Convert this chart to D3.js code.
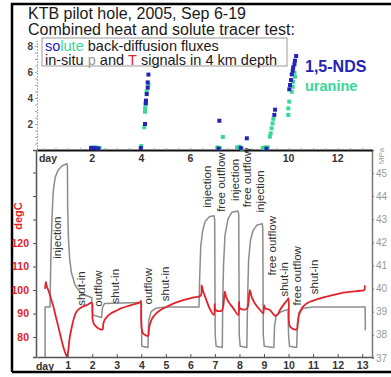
<!DOCTYPE html>
<html>
<head>
<meta charset="utf-8">
<script src="https://cdn.jsdelivr.net/npm/d3@7"></script>
<style>
  body { margin: 0; background: #fff; }
  svg { display: block; font-family: "Liberation Sans", Arial, sans-serif; }
</style>
</head>
<body>
<div id="chart"></div>
<script>
// ---- data ----
// in-situ pressure (MPa) vs day
const pDays = [0.08, 0.08, 0.28, 0.30, 0.32, 0.36, 0.41, 0.49, 0.60, 0.76, 0.96,
  0.99, 1.00, 1.03, 1.08, 1.15, 1.30, 1.50, 1.75, 1.98,
  2.00, 2.05, 2.38, 2.42, 2.50, 4.00,
  4.02, 4.27, 4.30, 4.40, 4.60, 5.00, 6.35,
  6.38, 6.42, 6.50, 6.60, 6.77, 6.96, 6.99, 7.01, 7.05, 7.30,
  7.32, 7.35, 7.41, 7.53, 7.69, 7.94, 7.97, 7.99, 8.03, 8.30,
  8.33, 8.37, 8.45, 8.55, 8.72, 8.93, 8.95, 8.97, 9.01, 9.40,
  9.43, 9.50, 9.70, 9.98, 10.00, 10.04, 10.33,
  10.36, 10.42, 10.60, 11.00, 13.12, 13.13];
const pMPa = [37.0, 39.2, 39.2, 40.5, 41.6, 43.0, 44.2, 44.8, 45.1, 45.3, 45.4,
  45.3, 43.5, 42.2, 41.3, 40.7, 40.15, 39.85, 39.7, 39.6,
  39.0, 38.85, 38.75, 39.2, 39.35, 39.4,
  37.5, 37.45, 38.6, 39.0, 39.15, 39.2, 39.2,
  40.5, 41.8, 42.5, 42.9, 43.1, 43.15, 43.0, 38.0, 37.5, 37.45,
  39.5, 41.0, 42.3, 43.0, 43.3, 43.35, 43.2, 38.0, 37.5, 37.45,
  39.5, 41.2, 42.1, 42.5, 42.75, 42.8, 42.6, 38.0, 37.5, 37.45,
  38.4, 38.85, 39.0, 39.1, 38.0, 37.5, 37.45,
  38.5, 38.95, 39.15, 39.2, 39.2, 38.2];

// in-situ temperature (degC) vs day
const tDays = [0.08, 0.11, 0.15, 0.21, 0.30, 0.42, 0.52, 0.62, 0.72, 0.82, 0.90, 0.97,
  1.02, 1.08, 1.17, 1.27, 1.37, 1.55, 1.78, 1.98,
  2.01, 2.05, 2.15, 2.30, 2.42, 2.45, 2.50, 2.60, 2.77, 3.00, 3.17, 3.58, 3.98,
  3.99, 4.01, 4.07, 4.15, 4.27, 4.32, 4.41, 4.50, 4.62, 4.80, 5.03, 5.35, 5.70, 6.10, 6.42,
  6.46, 6.52, 6.60, 6.70, 6.80, 6.96, 6.99, 7.02, 7.28,
  7.40, 7.46, 7.55, 7.75, 7.95, 7.98, 8.02, 8.30,
  8.42, 8.50, 8.63, 8.84, 8.97, 9.00, 9.05, 9.24, 9.45, 9.55, 9.65, 9.80, 9.97, 10.00,
  10.02, 10.08, 10.33, 10.38, 10.43, 10.54, 10.70, 10.87, 11.15, 11.42, 11.80, 12.10, 12.50, 12.91,
  13.08, 13.11];
const tDegC = [100.5, 103.5, 101.5, 100.0, 97.0, 92.9, 88.5, 84.4, 80.0, 75.9, 73.3, 71.6,
  74.0, 79.5, 84.4, 88.5, 91.0, 92.6, 93.6, 94.6,
  88.0, 86.0, 84.5, 83.4, 83.2, 85.5, 87.2, 88.6, 90.1, 91.3, 92.2, 93.6, 95.0,
  95.5, 84.0, 81.5, 80.9, 80.5, 84.0, 87.2, 88.8, 90.2, 91.6, 92.9, 94.4, 95.7, 96.8, 97.6,
  102.0, 99.5, 97.2, 94.3, 91.8, 89.4, 94.0, 91.5, 91.3,
  99.3, 97.0, 95.0, 92.2, 89.4, 95.0, 92.2, 92.0,
  100.0, 97.0, 94.3, 91.5, 90.1, 93.6, 92.2, 91.5, 89.0, 89.5, 91.5, 93.8, 96.0, 96.5,
  86.0, 84.2, 83.2, 86.0, 89.5, 92.2, 94.0, 95.0, 96.0, 96.9, 97.8, 98.6, 99.2, 99.7,
  100.0, 102.0];

// back-diffusion fluxes (upper panel)
const ndsDays = [1.95, 2.10, 2.25, 3.98, 4.15, 4.18, 4.19, 4.22, 4.26, 4.26, 4.29,
  7.15, 7.18, 8.05, 8.30, 9.10, 9.42, 9.45,
  10.03, 10.06, 10.10, 10.13, 10.17, 10.19, 10.24, 10.26, 10.31];
const ndsFlux = [0.15, 0.15, 0.12, 0.15, 2.0, 3.6, 3.8, 4.3, 4.8, 5.2, 5.8,
  0.1, 2.25, 0.15, 0.9, 0.1, 2.7, 3.1,
  4.67, 5.0, 5.38, 5.82, 6.1, 6.36, 6.6, 6.87, 7.23];
const uraDays = [2.00, 2.15, 2.30, 4.00, 4.12, 4.15, 4.15, 4.18, 4.22, 4.29,
  7.10, 7.20, 7.32, 7.90, 8.00, 8.10, 8.95, 9.05, 9.15,
  9.24, 9.27, 9.31, 9.35, 9.38, 9.99, 9.99, 10.03, 10.13, 10.17, 10.19, 10.24, 10.26];
const uraFlux = [0.2, 0.2, 0.15, 0.3, 1.75, 2.95, 3.2, 3.5, 4.5, 5.05,
  0.2, 0.15, 1.0, 0.2, 0.25, 0.1, 0.15, 0.2, 0.2,
  1.03, 1.28, 1.67, 2.05, 2.4, 2.7, 3.2, 3.72, 4.48, 4.87, 5.25, 5.95, 5.64];

// tick labels
const dayTicks = [1, 2, 3, 4, 5, 6, 7, 8, 9, 10, 11, 12, 13];
const topDayTicks = [2, 4, 6, 10, 12];
const fluxTicks = [2, 4, 6, 8];
const degTicks = [80, 90, 100, 110, 120, 130, 140, 150];
const degLabelled = [80, 90, 100, 110, 120];
const mpaTicks = [37, 38, 39, 40, 41, 42, 43, 44, 45];

// phase annotations: [text, day, MPa at centre]
const phases = [
  ["injection", 0.56, 42.2], ["shut-in", 1.56, 40.0], ["outflow", 2.25, 40.0], ["shut-in", 2.94, 40.1],
  ["outflow", 4.27, 40.1], ["shut-in", 4.96, 40.2],
  ["injection", 6.68, 44.4], ["free outflow", 7.25, 44.6], ["injection", 7.82, 44.7],
  ["free outflow", 8.3, 44.8], ["injection", 8.85, 44.2], ["free outflow", 9.33, 41.85],
  ["shut-in", 9.82, 40.4], ["free outflow", 10.33, 40.55], ["shut-in", 11.04, 40.5]
];

// ---- layout ----
const W = 391, H = 377;
const blue = "#2323b4", green = "#38d898", red = "#e3222b", gray = "#8c8c8c";

const svg = d3.select("#chart").append("svg").attr("width", W).attr("height", H);

const x = d3.scaleLinear().domain([-0.25, 13.4]).range([37, 372]);
const yFlux = d3.scaleLinear().domain([0, 8.4]).range([150, 40.8]);
const yT = d3.scaleLinear().domain([71.5, 159.6]).range([357, 150]);
const yP = d3.scaleLinear().domain([37.04, 45.99]).range([357, 150]);

// frame
svg.append("path").attr("d", "M12,372V4H391M12,372H391")
  .attr("fill", "none").attr("stroke", "#000").attr("stroke-width", 2.5);

// title
svg.append("text").attr("x", 28).attr("y", 19).style("font-size", "16px").attr("fill", "#1a1a1a")
  .text("KTB pilot hole, 2005, Sep 6-19");
svg.append("text").attr("x", 28).attr("y", 34.5).style("font-size", "16px").attr("fill", "#1a1a1a")
  .text("Combined heat and solute tracer test:");

// upper panel y axis (fluxes)
const fluxAxis = svg.append("g").attr("transform", "translate(37,0)")
  .call(d3.axisLeft(yFlux).tickValues(d3.range(0.5, 8.5, 0.5)).tickSize(2).tickFormat(""));
fluxAxis.select(".domain").attr("stroke", "#aaa").attr("stroke-dasharray", "2,1");
fluxAxis.selectAll(".tick line").attr("stroke", "#aaa");
fluxTicks.forEach(v => {
  svg.append("text").attr("x", 33).attr("y", yFlux(v)).attr("dy", "0.35em")
    .attr("text-anchor", "end").style("font-size", "10px").style("font-weight", "bold")
    .attr("fill", "#444").text(v);
});

// legend box, coloured words placed one after another
svg.append("rect").attr("x", 42).attr("y", 38).attr("width", 245).attr("height", 28)
  .attr("fill", "#fff").attr("stroke", "#999").attr("stroke-width", 1);
function runOfText(y, parts) {
  let cx = 45;
  parts.forEach(([txt, col]) => {
    const t = svg.append("text").attr("x", cx).attr("y", y).style("font-size", "14.5px")
      .style("white-space", "pre").attr("fill", col).text(txt);
    cx += t.node().getComputedTextLength();
  });
}
runOfText(51, [["so", blue], ["lute", green], [" back-diffusion fluxes", "#1a1a1a"]]);
runOfText(64.5, [["in-situ ", "#1a1a1a"], ["p", "#999"], [" and ", "#1a1a1a"], ["T", red],
  [" signals in 4 km depth", "#1a1a1a"]]);

svg.append("text").attr("x", 305).attr("y", 71.5).style("font-size", "16px").style("font-weight", "bold")
  .attr("fill", blue).text("1,5-NDS");
svg.append("text").attr("x", 305).attr("y", 91).style("font-size", "14.5px").style("font-weight", "bold")
  .attr("fill", green).text("uranine");

// lower panel: pressure curve (gray)
const pLine = d3.line().x(d => x(d[0])).y(d => yP(d[1]));
svg.append("path").datum(d3.zip(pDays, pMPa)).attr("d", pLine)
  .attr("fill", "none").attr("stroke", gray).attr("stroke-width", 1.5).attr("stroke-linejoin", "round");

// phase labels
phases.forEach(([txt, d, p]) => {
  svg.append("text")
    .attr("transform", "translate(" + x(d) + "," + yP(p) + ") rotate(-90)")
    .attr("text-anchor", "middle").attr("dy", "0.35em")
    .style("font-size", "11.5px").attr("fill", "#333").text(txt);
});

// temperature curve (red)
const tLine = d3.line().x(d => x(d[0])).y(d => yT(d[1])).curve(d3.curveCatmullRom.alpha(0.5));
svg.append("path").datum(d3.zip(tDays, tDegC)).attr("d", tLine)
  .attr("fill", "none").attr("stroke", red).attr("stroke-width", 1.8).attr("stroke-linejoin", "round");

// bottom day axis
const bottomAxis = svg.append("g").attr("transform", "translate(0,357)")
  .call(d3.axisBottom(x).tickValues(dayTicks).tickSizeInner(-3).tickSizeOuter(0).tickPadding(5));
bottomAxis.select(".domain").attr("stroke", "#555").attr("stroke-width", 1.5);
bottomAxis.selectAll(".tick line").attr("stroke", "#555");
bottomAxis.selectAll(".tick text").style("font-size", "10.5px").style("font-weight", "bold")
  .attr("fill", "#333").style("font-family", "inherit");
svg.append("text").attr("x", 45).attr("y", 370).attr("text-anchor", "middle")
  .style("font-size", "10.5px").style("font-weight", "bold").attr("fill", "#333").text("day");

// left temperature axis
const tAxis = svg.append("g").attr("transform", "translate(36,0)")
  .call(d3.axisLeft(yT).tickValues(degTicks).tickSize(3).tickPadding(4)
    .tickFormat(v => degLabelled.includes(v) ? v : ""));
tAxis.select(".domain").attr("stroke", "#555").attr("stroke-width", 1.5);
tAxis.selectAll(".tick line").attr("stroke", "#555");
tAxis.selectAll(".tick text").style("font-size", "10.5px").style("font-weight", "bold")
  .attr("fill", red).style("font-family", "inherit");
svg.append("text").attr("transform", "translate(18,216) rotate(-90)").attr("text-anchor", "middle")
  .attr("dy", "0.35em").style("font-size", "11px").style("font-weight", "bold").attr("fill", red).text("degC");

// right pressure axis
const pAxis = svg.append("g").attr("transform", "translate(372,0)")
  .call(d3.axisRight(yP).tickValues(mpaTicks).tickSize(2).tickPadding(2));
pAxis.select(".domain").attr("stroke", "#777").attr("stroke-width", 1.5);
pAxis.selectAll(".tick line").attr("stroke", "#777");
pAxis.selectAll(".tick text").style("font-size", "10px").attr("fill", "#999").style("font-family", "inherit");
svg.append("text").attr("transform", "translate(381,156) rotate(-90)").attr("text-anchor", "middle")
  .attr("dy", "0.35em").style("font-size", "8px").attr("fill", "#999").text("MPa");

// top day axis (zero line of flux panel)
const topAxis = svg.append("g").attr("transform", "translate(0,150)")
  .call(d3.axisBottom(x).tickValues(d3.range(0, 13.5, 0.5)).tickSizeInner(-2).tickSizeOuter(0).tickFormat(""));
topAxis.selectAll(".tick line").attr("stroke", "#999");
topAxis.select(".domain").attr("stroke", "#111").attr("stroke-width", 2.2);
topDayTicks.forEach(v => {
  svg.append("text").attr("x", x(v)).attr("y", 162).attr("text-anchor", "middle")
    .style("font-size", "10.5px").style("font-weight", "bold").attr("fill", "#333").text(v);
});
svg.append("text").attr("x", 48).attr("y", 162).attr("text-anchor", "middle")
  .style("font-size", "10.5px").style("font-weight", "bold").attr("fill", "#333").text("day");

// flux scatter
const sq = 4;
svg.append("g").selectAll("rect").data(d3.zip(uraDays, uraFlux)).enter().append("rect")
  .attr("x", d => x(d[0]) - sq / 2).attr("y", d => yFlux(d[1]) - sq / 2)
  .attr("width", sq).attr("height", sq).attr("fill", green);
svg.append("g").selectAll("rect").data(d3.zip(ndsDays, ndsFlux)).enter().append("rect")
  .attr("x", d => x(d[0]) - sq / 2).attr("y", d => yFlux(d[1]) - sq / 2)
  .attr("width", sq).attr("height", sq).attr("fill", blue);
</script>
</body>
</html>
